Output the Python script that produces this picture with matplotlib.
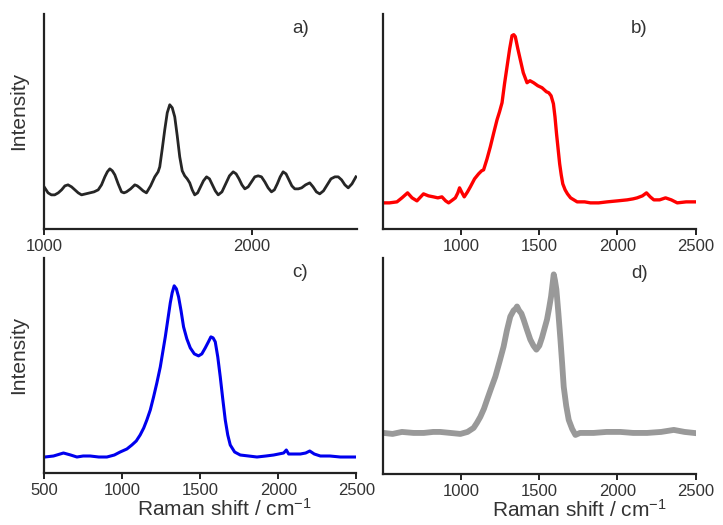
import matplotlib
matplotlib.use("Agg")
import matplotlib.pyplot as plt

plt.rcParams["font.family"] = ["Liberation Sans", "DejaVu Sans"]
plt.rcParams["mathtext.fontset"] = "custom"
plt.rcParams["mathtext.rm"] = "Liberation Sans"
plt.rcParams["mathtext.it"] = "Liberation Sans:italic"

# a) spectrum (wavenumber, intensity a.u.)
a_x = [1000, 1019, 1035, 1051, 1068, 1084, 1100, 1115, 1132, 1148, 1164, 1180, 1200,
       1220, 1240, 1260, 1276, 1292, 1304, 1316, 1328, 1340, 1356, 1372, 1384, 1396,
       1416, 1436, 1448, 1460, 1476, 1492, 1512, 1532, 1548, 1556, 1568, 1580, 1592,
       1604, 1616, 1628, 1640, 1652, 1664, 1676, 1688, 1700, 1712, 1724, 1738, 1752,
       1766, 1781, 1795, 1809, 1823, 1837, 1855, 1873, 1891, 1909, 1923, 1937, 1951,
       1965, 1981, 1997, 2013, 2029, 2045, 2061, 2077, 2093, 2107, 2121, 2135, 2149,
       2163, 2177, 2191, 2205, 2222, 2238, 2257, 2277, 2293, 2309, 2325, 2343, 2361,
       2379, 2398, 2414, 2430, 2446, 2462, 2480, 2499]
a_y = [42, 36, 34, 34, 36, 39, 43, 44, 42, 39, 36, 34, 35,
       36, 37, 39, 44, 52, 57, 60, 58, 54, 45, 37, 36, 37,
       40, 44, 43, 41, 38, 36, 43, 52, 57, 62, 80, 99, 116,
       124, 121, 112, 93, 72, 58, 53, 50, 46, 39, 34, 36, 42,
       48, 52, 50, 44, 38, 34, 37, 45, 53, 57, 55, 50, 44,
       40, 42, 47, 52, 53, 52, 47, 41, 37, 39, 45, 52, 57,
       55, 49, 43, 40, 40, 41, 44, 46, 42, 37, 35, 38, 44,
       50, 52, 52, 49, 44, 41, 45, 52]

# b) spectrum
b_x = [500, 540, 588, 620, 656, 685, 716, 740, 758, 790, 822, 850, 876, 900, 919,
       945, 962, 978, 989, 1005, 1019, 1040, 1058, 1085, 1111, 1130, 1143, 1165, 1186,
       1208, 1229, 1245, 1261, 1277, 1293, 1310, 1325, 1336, 1346, 1362, 1378, 1397,
       1421, 1440, 1463, 1490, 1517, 1545, 1560, 1575, 1590, 1600, 1610, 1620, 1630,
       1640, 1650, 1665, 1680, 1700, 1742, 1790, 1827, 1880, 1934, 2000, 2062, 2100,
       2126, 2160, 2186, 2210, 2233, 2270, 2308, 2345, 2383, 2440, 2495]
b_y = [26, 26, 27, 31, 36, 31, 28, 32, 35, 33, 32, 31, 32, 28, 26,
       29, 31, 36, 41, 36, 32, 37, 42, 50, 55, 58, 59, 70, 82,
       96, 109, 117, 126, 145, 162, 180, 193, 194, 192, 180, 169, 156,
       146, 148, 146, 143, 141, 137, 136, 133, 125, 112, 95, 80, 65,
       54, 45, 39, 35, 31, 27, 27, 26, 26, 27, 28, 29, 30,
       31, 33, 36, 32, 29, 29, 31, 29, 26, 27, 27]

# c) spectrum
c_x = [505, 560, 624, 670, 710, 750, 795, 850, 902, 950, 987, 1030, 1062, 1090,
       1115, 1138, 1158, 1180, 1201, 1222, 1244, 1260, 1276, 1292, 1308, 1320, 1333,
       1347, 1361, 1377, 1393, 1414, 1436, 1462, 1489, 1510, 1532, 1552, 1568, 1582,
       1596, 1612, 1628, 1644, 1660, 1676, 1692, 1720, 1756, 1810, 1863, 1920, 1970,
       2034, 2051, 2066, 2100, 2141, 2175, 2201, 2230, 2269, 2330, 2397, 2450, 2494]
c_y = [16, 17, 20, 18, 16, 17, 17, 16, 16, 18, 21, 24, 28, 32,
       38, 45, 53, 63, 76, 90, 106, 121, 136, 153, 170, 180, 187,
       184, 176, 162, 146, 134, 125, 119, 117, 119, 125, 131, 136, 135,
       131, 116, 96, 74, 53, 38, 28, 21, 18, 17, 16, 17, 18,
       20, 23, 19, 19, 19, 20, 22, 19, 17, 17, 16, 16, 16]

# d) spectrum
d_x = [502, 560, 620, 694, 760, 820, 865, 930, 994, 1040, 1079, 1100, 1122, 1145,
       1165, 1190, 1218, 1245, 1271, 1292, 1314, 1335, 1350, 1357, 1370, 1385, 1399,
       1420, 1442, 1462, 1481, 1500, 1517, 1533, 1549, 1562, 1575, 1585, 1592, 1600,
       1609, 1622, 1635, 1646, 1656, 1672, 1688, 1710, 1731, 1760, 1800, 1848, 1930,
       2019, 2100, 2190, 2280, 2361, 2430, 2489]
d_y = [41, 40, 42, 41, 41, 42, 42, 41, 40, 42, 46, 51, 57, 65,
       74, 85, 97, 112, 127, 143, 157, 163, 165, 167, 163, 160, 154,
       144, 134, 128, 124, 128, 136, 145, 154, 165, 177, 190, 199, 193,
       184, 160, 134, 110, 87, 68, 54, 45, 39, 41, 41, 41, 42,
       42, 41, 41, 42, 44, 42, 41]

panels = [
    ("a)", a_x, a_y, "#262626", 2.0, (1000, 2505), [1000, 2000]),
    ("b)", b_x, b_y, "#ff0000", 2.4, (500, 2500), [1000, 1500, 2000, 2500]),
    ("c)", c_x, c_y, "#0000ee", 2.2, (500, 2500), [500, 1000, 1500, 2000, 2500]),
    ("d)", d_x, d_y, "#999999", 4.2, (500, 2500), [1000, 1500, 2000, 2500]),
]
boxes = [
    [0.061, 0.564, 0.433, 0.410],
    [0.530, 0.564, 0.432, 0.410],
    [0.061, 0.099, 0.432, 0.410],
    [0.530, 0.097, 0.432, 0.411],
]

fig = plt.figure(figsize=(7.23, 5.25), dpi=100)
for (tag, xs, ys, col, lw, xlim, ticks), box in zip(panels, boxes):
    ax = fig.add_axes(box)
    ax.plot(xs, ys, color=col, lw=lw, solid_joinstyle="round")
    ax.set_xlim(*xlim)
    ax.set_ylim(0, 215)
    ax.set_xticks(ticks)
    ax.set_yticks([])
    for s in ("top", "right"):
        ax.spines[s].set_visible(False)
    for s in ("left", "bottom"):
        ax.spines[s].set_linewidth(1.6)
        ax.spines[s].set_color("#222222")
    ax.tick_params(axis="x", direction="out", length=4, width=1.4,
                   colors="#222222", labelsize=12, labelcolor="#333333", pad=3)
    ax.text(0.82, 0.93, tag, transform=ax.transAxes, ha="center", va="center",
            fontsize=13.5, color="#333333")
    if tag in ("a)", "c)"):
        ax.set_ylabel("Intensity", fontsize=15, color="#333333")
        ax.yaxis.set_label_coords(-0.05, 0.55)
    if tag in ("c)", "d)"):
        ax.set_xlabel(r"Raman shift / cm$^{\mathregular{-1}}$", fontsize=15, color="#333333")
        xc = 0.577 if tag == "c)" else 0.628
        ax.xaxis.set_label_coords(xc, -0.115)

fig.savefig("out.png", dpi=100)
